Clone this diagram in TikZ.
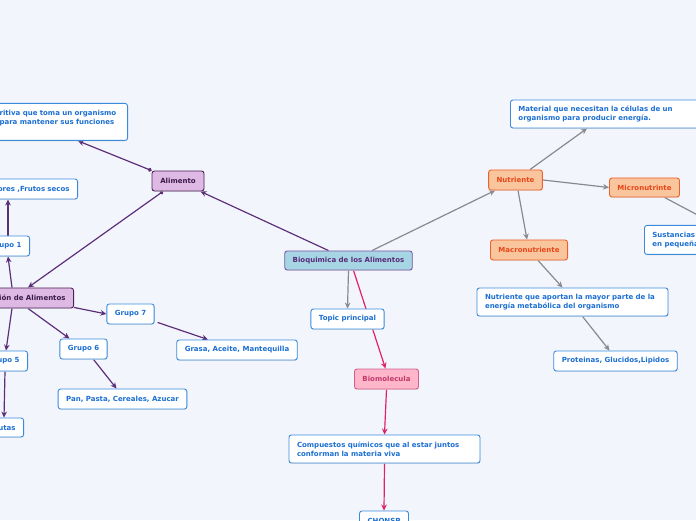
\documentclass[tikz,border=0pt]{standalone}
\usepackage{fontspec}
\setmainfont{DejaVu Sans}
\usetikzlibrary{arrows.meta,calc,shadows}
\definecolor{bgc}{HTML}{F3F5FD}
\definecolor{wbd}{HTML}{3A8BDB}
\definecolor{wtx}{HTML}{1C6FD2}
\definecolor{pfill}{HTML}{DDB9E3}
\definecolor{pbd}{HTML}{4C2559}
\definecolor{ptx}{HTML}{3B1A4A}
\definecolor{cfill}{HTML}{A6D6E3}
\definecolor{cbd}{HTML}{7C5AA6}
\definecolor{ctx}{HTML}{5A2A7A}
\definecolor{ofill}{HTML}{F9C59C}
\definecolor{obd}{HTML}{F0602A}
\definecolor{otx}{HTML}{E8461A}
\definecolor{kfill}{HTML}{FFB6CB}
\definecolor{kbd}{HTML}{D0608A}
\definecolor{ktx}{HTML}{C03A6A}
\definecolor{lpur}{HTML}{5C2F78}
\definecolor{lgry}{HTML}{8A8A8E}
\definecolor{lpnk}{HTML}{E0226A}
\pgfdeclarelayer{back}
\pgfsetlayers{back,main}
\tikzset{
  box/.style={draw, rounded corners=2.5pt, line width=0.9pt,
    font=\fontsize{7}{9}\selectfont\bfseries, inner xsep=8pt, inner ysep=2pt,
    drop shadow={shadow xshift=0.4pt, shadow yshift=-0.9pt, fill=black!18, opacity=0.6}},
  wbox/.style={box, fill=white, draw=wbd, text=wtx},
  pbox/.style={box, fill=pfill, draw=pbd, text=ptx},
  cbox/.style={box, fill=cfill, draw=cbd, text=ctx},
  obox/.style={box, fill=ofill, draw=obd, text=otx},
  kbox/.style={box, fill=kfill, draw=kbd, text=ktx},
  tip/.style={-{Stealth[length=6pt,width=5.6pt]}},
  lp/.style={draw=lpur, line width=1.2pt, tip},
  lpd/.style={draw=lpur, line width=1.2pt, {Circle[length=3.8pt]}-{Stealth[length=6pt,width=5.6pt]}},
  lg/.style={draw=lgry, line width=1.2pt, tip},
  lk/.style={draw=lpnk, line width=1.2pt, tip}
}
\begin{document}
\begin{tikzpicture}[x=1pt,y=1pt]
\useasboundingbox (0,0) rectangle (696,520);
\begin{pgfonlayer}{back}
\fill[bgc] (0,0) rectangle (696,520);
\end{pgfonlayer}
\begin{scope}
\clip (0,0) rectangle (696,520);
% central
\node[cbox, minimum width=127pt, minimum height=19pt] (bio) at (348.5,259.5) {Bioquimica de los Alimentos};
% left branch
\node[pbox, minimum width=52pt, minimum height=20pt] (alim) at (178,339) {Alimento};
\node[wbox, anchor=north east, text width=120pt, align=left, minimum height=37pt] (desc) at (128,417)
  {\mbox{ritiva que toma un organismo}\\\mbox{para mantener sus funciones}\\\mbox{}};
\node[pbox, anchor=east, minimum height=20pt] (clas) at (74,222) {Clasificación de Alimentos};
\node[wbox, anchor=east, minimum height=20pt] (g1) at (30,274) {Grupo 1};
\node[wbox, anchor=east, text width=90pt, align=right, minimum height=20pt] (frsec) at (78,331) {ores ,Frutos secos};
\node[wbox, anchor=east, minimum height=20pt] (g5) at (28,159) {Grupo 5};
\node[wbox, anchor=east, minimum height=19pt] (frutas) at (24,92.5) {Frutas};
\node[wbox, minimum width=47pt, minimum height=20pt] (g7) at (130.5,206) {Grupo 7};
\node[wbox, minimum width=47pt, minimum height=20pt] (g6) at (83.5,171) {Grupo 6};
\node[wbox, minimum width=118pt, minimum height=20pt] (grasa) at (237,170) {Grasa, Aceite, Mantequilla};
\node[wbox, minimum width=127pt, minimum height=20pt] (pan) at (122.5,121) {Pan, Pasta, Cereales, Azucar};
% bottom branch
\node[wbox, minimum width=73pt, minimum height=20pt] (topic) at (347.5,201) {Topic principal};
\node[kbox, minimum width=63pt, minimum height=20pt] (biomol) at (386.5,141) {Biomolecula};
\node[wbox, text width=175pt, align=left, minimum height=28pt] (comp) at (384.5,71)
  {Compuestos químicos que al estar juntos\\conforman la materia viva};
\node[wbox, minimum width=48pt, minimum height=20pt] (chon) at (384,-1) {CHONSP};
% right branch
\node[obox, minimum width=53pt, minimum height=20pt] (nutr) at (515.5,340) {Nutriente};
\node[wbox, anchor=west, text width=179pt, align=left, minimum height=28pt] (mat) at (510,406)
  {Material que necesitan la células de un\\organismo para producir energía.};
\node[obox, minimum width=69pt, minimum height=19pt] (micro) at (644.5,332.5) {Micronutrinte};
\node[obox, minimum width=76pt, minimum height=20pt] (macro) at (529,270) {Macronutriente};
\node[wbox, anchor=north west, text width=128pt, align=left, minimum height=29pt] (sust) at (644,295)
  {Sustancias\\en pequeña};
\node[wbox, text width=175pt, align=left, minimum height=28pt] (napor) at (572.5,218)
  {Nutriente que aportan la mayor parte de la\\energía metabólica del organismo};
\node[wbox, minimum width=123pt, minimum height=20pt] (prot) at (615.5,159) {Proteinas, Glucidos,Lipidos};
\end{scope}
\begin{pgfonlayer}{back}
\begin{scope}
\clip (0,0) rectangle (696,520);
% purple connectors
\draw[lp] ([xshift=-20pt]bio.north) -- ([xshift=-4pt]alim.south east);
\draw[lpd] (alim.north west) -- ([xshift=-50pt]desc.south east);
\draw[lpd] ([xshift=-15pt]alim.south) -- ([xshift=-46pt]clas.north east);
\draw[lp] ([xshift=-62pt]clas.north east) -- ([xshift=-22pt]g1.south east);
\draw[lp] ([xshift=-22pt]g1.north east) -- ([xshift=-70pt]frsec.south east);
\draw[lp] ([xshift=-62pt]clas.south east) -- ([xshift=-22pt]g5.north east);
\draw[lp] ([xshift=-23pt]g5.south east) -- ([xshift=-20pt]frutas.north east);
\draw[lp] ([xshift=-46pt]clas.south east) -- ([xshift=-14pt]g6.north);
\draw[lp] ([yshift=1pt]clas.south east) -- (g7.west);
\draw[lp] ([xshift=10pt]g6.south) -- ([xshift=-6pt]pan.north);
\draw[lp] ([xshift=3pt,yshift=2pt]g7.south east) -- ([xshift=-29pt]grasa.north);
% gray connectors
\draw[lg] (bio.south) -- (topic.north);
\draw[lg] ([xshift=23.5pt]bio.north) -- ([xshift=7pt]nutr.south west);
\draw[lg] ([xshift=14.5pt]nutr.north) -- ([xshift=77pt]mat.south west);
\draw[lg] (nutr.east) -- (micro.west);
\draw[lg] ([xshift=2.5pt]nutr.south) -- ([xshift=-2pt]macro.north);
\draw[lg] ([xshift=20pt]micro.south) -- (sust.north);
\draw[lg] ([xshift=9pt]macro.south) -- ([xshift=-10pt]napor.north);
\draw[lg] ([xshift=10pt]napor.south) -- ([xshift=-6pt]prot.north);
% pink connectors
\draw[lk] ([xshift=5pt]bio.south) -- ([xshift=-1pt]biomol.north);
\draw[lk] (biomol.south) -- (comp.north);
\draw[lk] (comp.south) -- (chon.north);
\end{scope}
\end{pgfonlayer}
\end{tikzpicture}
\end{document}
